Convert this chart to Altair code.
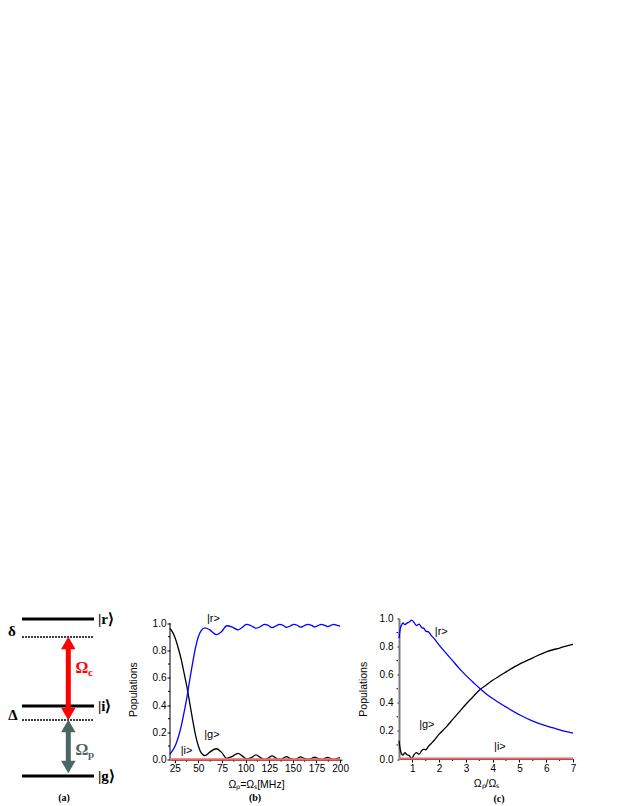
import altair as alt
import pandas as pd

# ---------------- panel (a): level scheme ----------------
level_names = ["|g⟩", "|i⟩", "|r⟩"]
level_energy = [0, 70, 157]
virtual_energy = [56, 139]
detuning_names = ["Δ", "δ"]
detuning_energy = [61, 145]
coupling_sub = ["p", "c"]
coupling_lower = [3, 56]
coupling_upper = [56, 139]
coupling_label_energy = [26, 108]
coupling_color = ["#4b6763", "#ff0000"]

# ---------------- panel (b): populations vs Rabi frequency ----------------
b_x = [20, 23, 26, 29, 32, 35, 38, 41, 44, 47, 50, 53, 57, 62, 69, 75, 80, 86, 92,
       96, 101, 106, 111, 116, 120, 124, 128, 132, 136, 140, 143, 147, 151, 155,
       158, 162, 166, 170, 173, 177, 180, 184, 187, 190, 193, 197, 200]
b_g = [0.96, 0.93, 0.88, 0.81, 0.73, 0.63, 0.53, 0.41, 0.29, 0.18, 0.10, 0.05, 0.03,
       0.055, 0.08, 0.05, 0.01, 0.025, 0.047, 0.03, 0.005, 0.015, 0.035, 0.015, 0.003,
       0.012, 0.028, 0.012, 0.002, 0.012, 0.022, 0.01, 0.002, 0.01, 0.02, 0.01, 0.002,
       0.01, 0.018, 0.008, 0.002, 0.01, 0.017, 0.008, 0.002, 0.01, 0.015]
b_r = [0.04, 0.07, 0.11, 0.17, 0.25, 0.35, 0.46, 0.59, 0.71, 0.82, 0.90, 0.945, 0.965,
       0.95, 0.915, 0.94, 0.98, 0.97, 0.95, 0.965, 0.99, 0.98, 0.962, 0.975, 0.99,
       0.982, 0.966, 0.978, 0.99, 0.982, 0.968, 0.978, 0.99, 0.982, 0.97, 0.98, 0.99,
       0.982, 0.972, 0.982, 0.99, 0.982, 0.974, 0.982, 0.99, 0.982, 0.978]
b_i_x = [20, 60, 100, 140, 180, 200]
b_i = [0.002, 0.002, 0.002, 0.002, 0.002, 0.002]
b_label_text = ["|r>", "|g>", "|i>"]
b_label_x = [66, 64.4, 37.5]
b_label_y = [1.03, 0.184, 0.067]
b_ticks = [25, 50, 75, 100, 125, 150, 175, 200]
b_minor_x = [37.5, 62.5, 87.5, 112.5, 137.5, 162.5, 187.5]

# ---------------- panel (c): populations vs ratio ----------------
c_x = [0.5, 0.55, 0.6, 0.65, 0.72, 0.8, 0.88, 0.97, 1.06, 1.15, 1.25, 1.35, 1.43,
       1.5, 1.6, 1.7, 1.8, 2.0, 2.25, 2.5, 2.75, 3.0, 3.25, 3.5, 3.75, 4.0, 4.5,
       5.0, 5.5, 6.0, 6.5, 7.0]
c_r = [0.86, 0.93, 0.955, 0.968, 0.956, 0.967, 0.975, 0.988, 0.972, 0.95, 0.96,
       0.935, 0.93, 0.91, 0.905, 0.88, 0.86, 0.81, 0.755, 0.70, 0.645, 0.595, 0.55,
       0.505, 0.465, 0.43, 0.37, 0.315, 0.27, 0.235, 0.208, 0.184]
c_g = [0.13, 0.065, 0.035, 0.028, 0.045, 0.03, 0.025, 0.004, 0.03, 0.045, 0.034,
       0.06, 0.07, 0.065, 0.09, 0.11, 0.13, 0.177, 0.225, 0.28, 0.335, 0.39, 0.44,
       0.49, 0.525, 0.56, 0.62, 0.675, 0.72, 0.763, 0.79, 0.815]
c_i_x = [0.5, 2, 4, 6, 7]
c_i = [0.002, 0.002, 0.002, 0.002, 0.002]
c_label_text = ["|r>", "|g>", "|i>"]
c_label_x = [2.08, 1.54, 4.27]
c_label_y = [0.904, 0.245, 0.082]
c_ticks = [1, 2, 3, 4, 5, 6, 7]
c_minor_x = [1.5, 2.5, 3.5, 4.5, 5.5, 6.5]

y_ticks = [0.0, 0.2, 0.4, 0.6, 0.8, 1.0]
y_minor = [0.1, 0.3, 0.5, 0.7, 0.9]

SANS = "Liberation Sans"
SERIF = "Liberation Serif"

# ================= panel (a) =================
head = 6  # half height of arrow heads
xs_a = alt.Scale(domain=[0, 111], nice=False, zero=False)
ys_a = alt.Scale(domain=[-34.5, 157.5], nice=False, zero=False)

lev_df = pd.DataFrame({"name": level_names, "E": level_energy, "x1": 14, "x2": 86, "xl": 90})
vir_df = pd.DataFrame({"E": virtual_energy, "x1": 14, "x2": 86})
det_df = pd.DataFrame({"name": detuning_names, "E": detuning_energy, "x": [5, 4]})
cp_df = pd.DataFrame({
    "sub": coupling_sub,
    "lo": coupling_lower,
    "hi": coupling_upper,
    "lab": coupling_label_energy,
    "color": coupling_color,
    "x": 60.3,
    "xl": 74,
})
cp_df["hi_c"] = cp_df["hi"] - head
cp_df["lo_c"] = cp_df["lo"] + head
cp_df["omega"] = "Ω"

A = alt.Chart(lev_df)
solid = A.mark_rule(strokeWidth=3, color="black").encode(
    x=alt.X("x1:Q", scale=xs_a, axis=None), x2="x2:Q",
    y=alt.Y("E:Q", scale=ys_a, axis=None))
lev_lab = A.mark_text(align="left", baseline="middle", font=SERIF, fontWeight="bold",
                      fontSize=15, color="black").encode(
    x=alt.X("xl:Q", scale=xs_a, axis=None), y=alt.Y("E:Q", scale=ys_a, axis=None),
    text="name:N")
dashed = alt.Chart(vir_df).mark_rule(strokeWidth=1.5, strokeDash=[2, 1], color="black").encode(
    x=alt.X("x1:Q", scale=xs_a, axis=None), x2="x2:Q",
    y=alt.Y("E:Q", scale=ys_a, axis=None))
det_lab = alt.Chart(det_df).mark_text(align="center", baseline="middle", font=SERIF,
                                      fontWeight="bold", fontSize=15, color="black").encode(
    x=alt.X("x:Q", scale=xs_a, axis=None), y=alt.Y("E:Q", scale=ys_a, axis=None),
    text="name:N")
C = alt.Chart(cp_df)
shaft = C.mark_rule(strokeWidth=5).encode(
    x=alt.X("x:Q", scale=xs_a, axis=None),
    y=alt.Y("lo_c:Q", scale=ys_a, axis=None), y2="hi_c:Q",
    color=alt.Color("color:N", scale=None))
head_up = C.mark_point(shape="triangle-up", filled=True, size=210, opacity=1).encode(
    x=alt.X("x:Q", scale=xs_a, axis=None),
    y=alt.Y("hi_c:Q", scale=ys_a, axis=None),
    color=alt.Color("color:N", scale=None))
head_dn = C.mark_point(shape="triangle-down", filled=True, size=210, opacity=1).encode(
    x=alt.X("x:Q", scale=xs_a, axis=None),
    y=alt.Y("lo_c:Q", scale=ys_a, axis=None),
    color=alt.Color("color:N", scale=None))
om = C.mark_text(align="center", baseline="middle", font=SERIF, fontWeight="bold",
                 fontSize=16).encode(
    x=alt.X("xl:Q", scale=xs_a, axis=None), y=alt.Y("lab:Q", scale=ys_a, axis=None),
    text="omega:N", color=alt.Color("color:N", scale=None))
om_sub = C.mark_text(align="left", baseline="middle", font=SERIF, fontWeight="bold",
                     fontSize=11, dx=6, dy=5).encode(
    x=alt.X("xl:Q", scale=xs_a, axis=None), y=alt.Y("lab:Q", scale=ys_a, axis=None),
    text="sub:N", color=alt.Color("color:N", scale=None))
cap_a = alt.Chart(pd.DataFrame({"t": ["(a)"], "x": [56], "E": [-22]})).mark_text(
    font=SERIF, fontWeight="bold", fontSize=10, color="black", baseline="middle").encode(
    x=alt.X("x:Q", scale=xs_a, axis=None), y=alt.Y("E:Q", scale=ys_a, axis=None), text="t:N")

panel_a = alt.layer(solid, dashed, shaft, head_up, head_dn, lev_lab, det_lab, om, om_sub,
                    cap_a).properties(width=111, height=192)

# ================= panel (b) =================
W_B, H_B = 172, 141.2
xs_b = alt.Scale(domain=[20, 202], nice=False, zero=False)
ys_b = alt.Scale(domain=[0, 1.033], nice=False, zero=False)
xax_b = alt.Axis(values=b_ticks, title="Ωₚ=Ωₛ[MHz]", tickSize=3, labelPadding=1,
                 titlePadding=6, labelFlush=False, labelOverlap=False)
yax_b = alt.Axis(values=y_ticks, format=".1f", title="Populations", tickSize=3,
                 labelPadding=1, titlePadding=14, domain=False, labelOverlap=False)
Xb = alt.X("x:Q", scale=xs_b, axis=xax_b)
Yb = alt.Y("y:Q", scale=ys_b, axis=yax_b)

df_bg = pd.DataFrame({"x": b_x, "y": b_g})
df_br = pd.DataFrame({"x": b_x, "y": b_r})
df_bi = pd.DataFrame({"x": b_i_x, "y": b_i})
df_bl = pd.DataFrame({"x": b_label_x, "y": b_label_y, "t": b_label_text})

lb_g = alt.Chart(df_bg).mark_line(color="black", strokeWidth=1.3, interpolate="monotone").encode(
    x=Xb, y=Yb)
lb_r = alt.Chart(df_br).mark_line(color="#0000ff", strokeWidth=1.3, interpolate="monotone").encode(
    x=Xb, y=Yb)
lb_i = alt.Chart(df_bi).mark_line(color="#ee6a6a", strokeWidth=2.2).encode(x=Xb, y=Yb)
b_axis_line = alt.Chart(pd.DataFrame({"x": [20], "y": [0.0], "y2": [1.0]})).mark_rule(
    color="black", strokeWidth=1).encode(x=Xb, y=Yb, y2="y2:Q")
b_minor_y = alt.Chart(pd.DataFrame({"y": y_minor})).mark_rule(color="black", strokeWidth=1).encode(
    x=alt.value(0), x2=alt.value(-2), y=Yb)
b_minor_xt = alt.Chart(pd.DataFrame({"x": b_minor_x})).mark_rule(color="black", strokeWidth=1).encode(
    x=Xb, y=alt.value(H_B), y2=alt.value(H_B + 2))
tb = alt.Chart(df_bl).mark_text(font=SANS, fontSize=11, color="black", baseline="middle").encode(
    x=Xb, y=Yb, text="t:N")
cap_b = alt.Chart(pd.DataFrame({"t": ["(b)"]})).mark_text(
    font=SERIF, fontWeight="bold", fontSize=10, color="black", baseline="middle").encode(
    x=alt.value(85), y=alt.value(179.5), text="t:N")
panel_b = alt.layer(lb_g, lb_r, b_axis_line, b_minor_y, b_minor_xt, lb_i, tb, cap_b).properties(
    width=W_B, height=H_B)

# ================= panel (c) =================
W_C, H_C = 174, 140.5
xs_c = alt.Scale(domain=[0.5, 7], nice=False, zero=False)
ys_c = alt.Scale(domain=[0, 1.0], nice=False, zero=False)
xax_c = alt.Axis(values=c_ticks, title="Ωₚ/Ωₛ", tickSize=3, labelPadding=1,
                 titlePadding=5, labelFlush=False, labelOverlap=False)
yax_c = alt.Axis(values=y_ticks, format=".1f", title="Populations", tickSize=2,
                 labelPadding=4, titlePadding=11, domainColor="#7a7a7a", domainWidth=2,
                 labelOverlap=False)
Xc = alt.X("x:Q", scale=xs_c, axis=xax_c)
Yc = alt.Y("y:Q", scale=ys_c, axis=yax_c)

df_cg = pd.DataFrame({"x": c_x, "y": c_g})
df_cr = pd.DataFrame({"x": c_x, "y": c_r})
df_ci = pd.DataFrame({"x": c_i_x, "y": c_i})
df_cl = pd.DataFrame({"x": c_label_x, "y": c_label_y, "t": c_label_text})

lc_g = alt.Chart(df_cg).mark_line(color="black", strokeWidth=1.3, interpolate="monotone").encode(
    x=Xc, y=Yc)
lc_r = alt.Chart(df_cr).mark_line(color="#0000ff", strokeWidth=1.3, interpolate="monotone").encode(
    x=Xc, y=Yc)
lc_i = alt.Chart(df_ci).mark_line(color="#ee6a6a", strokeWidth=2.2).encode(x=Xc, y=Yc)
c_minor_xt = alt.Chart(pd.DataFrame({"x": c_minor_x})).mark_rule(color="black", strokeWidth=1).encode(
    x=Xc, y=alt.value(H_C), y2=alt.value(H_C + 2))
c_minor_y = alt.Chart(pd.DataFrame({"y": y_minor})).mark_rule(color="black", strokeWidth=1).encode(
    x=alt.value(-1), x2=alt.value(-2.5), y=Yc)
tc = alt.Chart(df_cl).mark_text(font=SANS, fontSize=11, color="black", baseline="middle").encode(
    x=Xc, y=Yc, text="t:N")
cap_c = alt.Chart(pd.DataFrame({"t": ["(c)"]})).mark_text(
    font=SERIF, fontWeight="bold", fontSize=10, color="black", baseline="middle").encode(
    x=alt.value(100), y=alt.value(180.5), text="t:N")
panel_c = alt.layer(lc_g, lc_r, c_minor_xt, c_minor_y, lc_i, tc, cap_c).properties(
    width=W_C, height=H_C)

chart = alt.hconcat(panel_a, panel_b, panel_c, spacing=9).properties(
    padding={"left": 0, "top": 603.5, "right": 0, "bottom": 0}
).configure_view(stroke=None).configure_axis(
    grid=False, labelFont=SANS, labelFontSize=10, labelColor="black",
    titleFont=SANS, titleFontSize=10.5, titleFontWeight="normal", titleColor="black",
    domainColor="black", tickColor="black", labelOverlap=False
)

chart.save("out.html", embed_options={"renderer": "svg", "actions": False})
